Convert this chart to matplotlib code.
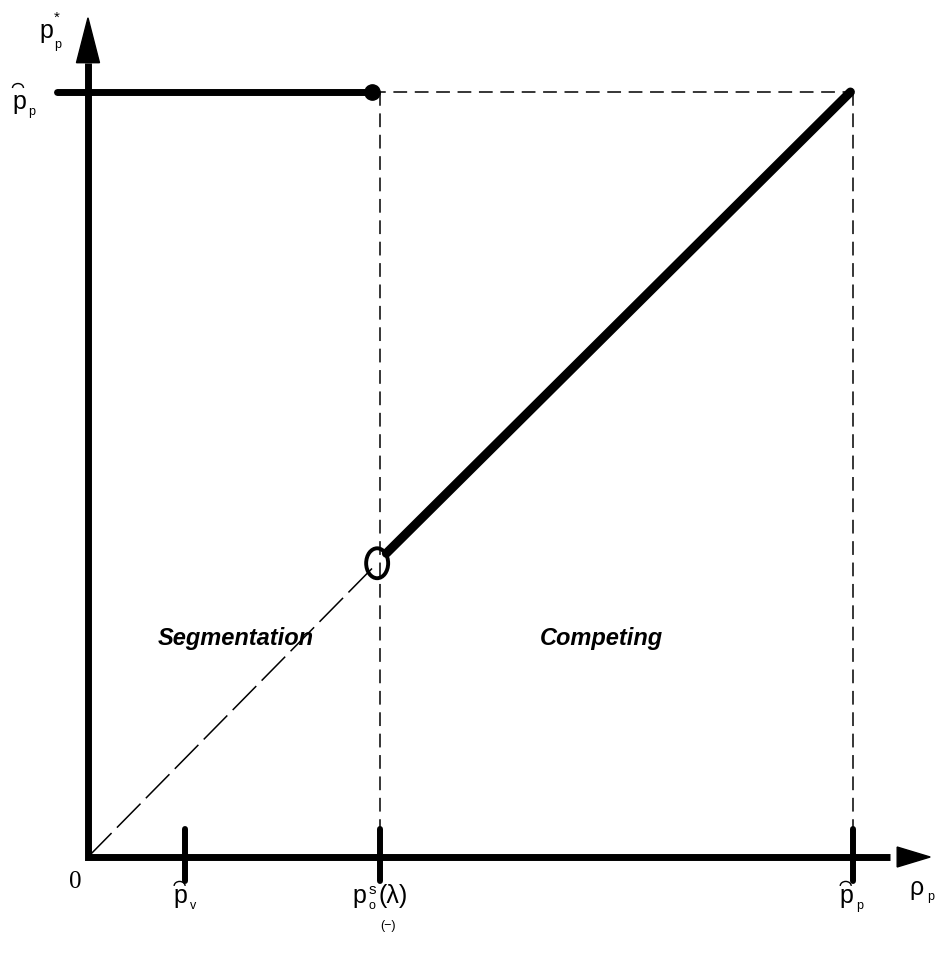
import matplotlib.pyplot as plt
from matplotlib.patches import Arc, Ellipse

plt.rcParams['font.family'] = ['Liberation Sans', 'DejaVu Sans']

# positions on the rho_p axis (p_hat_p scaled to 1)
tick_x = [0.126, 0.381, 0.997]
p_hat = 1.0                      # level of p_hat_p on the vertical axis
flat_x = [-0.040, 0.370]         # segmentation branch p* = p_hat_p
comp_x = [0.389, 0.994]          # competing branch p* = rho_p
comp_y = [0.397, 1.0]
seg_x = [0.0, 0.377]             # dashed 45 degree line up to the circle
seg_y = [0.0, 0.384]
circle = (0.377, 0.384)

x_end, y_end = 1.098, 1.097      # arrow tips
PX = 1 / 767.0                   # one pixel in data units

fig = plt.figure(figsize=(9.39, 9.55), dpi=100)
ax = fig.add_axes([0, 0, 1, 1])
ax.set_xlim(-0.1147, 1.1095)
ax.set_ylim(-0.1281, 1.1203)
ax.axis('off')

# axes with arrow heads
ax.plot([0, 0, x_end - 40 * PX], [y_end - 45 * PX, 0, 0], color='black', lw=5,
        solid_joinstyle='miter', solid_capstyle='butt')
ax.fill([-11.5 * PX, 11.5 * PX, 0], [y_end - 45 * PX, y_end - 45 * PX, y_end], color='black')
ax.fill([x_end - 33 * PX, x_end - 33 * PX, x_end], [-10 * PX, 10 * PX, 0], color='black')

# ticks
for x in tick_x:
    ax.plot([x, x], [-0.032, 0.036], color='black', lw=4.3, solid_capstyle='round')

# dashed guides
guide = dict(color='black', lw=1.1, dashes=(9, 5))
ax.plot([flat_x[1], tick_x[2]], [p_hat, p_hat], **guide)
ax.plot([tick_x[1], tick_x[1]], [p_hat, 0.036], **guide)
ax.plot([tick_x[2], tick_x[2]], [p_hat, 0.036], **guide)
ax.plot(seg_x, seg_y, color='black', lw=1.1, dashes=(22, 5))

# optimal price
ax.plot(flat_x, [p_hat, p_hat], color='black', lw=5, solid_capstyle='round')
ax.plot(flat_x[1], p_hat, 'o', color='black', markersize=11)
ax.plot(comp_x, comp_y, color='black', lw=6.5, solid_capstyle='round')
ax.add_patch(Ellipse(circle, 22 * PX, 30 * PX, fill=False, lw=2.8, color='black'))

# labels
def txt(s, anchor, dx, dy, size=18, **kw):
    ax.annotate(s, anchor, xytext=(dx, dy), textcoords='offset pixels',
                fontsize=size, ha=kw.pop('ha', 'center'), va=kw.pop('va', 'baseline'), **kw)

def hat(anchor, dx, dy):
    x0, y0 = anchor
    ax.add_patch(Arc((x0 + dx * PX, y0 + dy * PX), 11 * PX, 9 * PX,
                     theta1=0, theta2=180, lw=1.0, color='black'))

# vertical axis: p*_p and p_hat_p
top = (0, y_end)
txt('p', top, -42, -20)
txt('*', top, -31, 7, size=11, va='top')
txt('p', top, -34, -30, size=9, ha='left')
left = (0, p_hat)
txt('p', left, -69, -17)
txt('p', left, -60, -23, size=9, ha='left')
hat(left, -70, 4)

# horizontal axis
orig = (0, 0)
txt('0', orig, -13, -25, size=18, va='center', family='Liberation Serif')

pv = (tick_x[0], 0)
txt('p', pv, -4, -46)
txt('v', pv, 5, -52, size=9, ha='left')
hat(pv, -5, -29)

po = (tick_x[1], 0)
txt('p', po, -21, -46)
txt('s', po, -12, -26, size=11, va='top', ha='left')
txt('o', po, -12, -52, size=9, ha='left')
txt('(λ)', po, -2, -46, ha='left')
txt('(−)', po, 8, -72, size=9)

pp = (tick_x[2], 0)
txt('p', pp, -6, -46)
txt('p', pp, 3, -52, size=9, ha='left')
hat(pp, -7, -29)

rho = (x_end, 0)
txt('ρ', rho, -14, -38)
txt('p', rho, -3, -43, size=9, ha='left')

# regions
ax.text(0.192, 0.285, 'Segmentation', fontsize=17, fontweight='bold', fontstyle='italic',
        ha='center', va='center')
ax.text(0.670, 0.285, 'Competing', fontsize=17, fontweight='bold', fontstyle='italic',
        ha='center', va='center')

fig.savefig('out.png', dpi=100)
